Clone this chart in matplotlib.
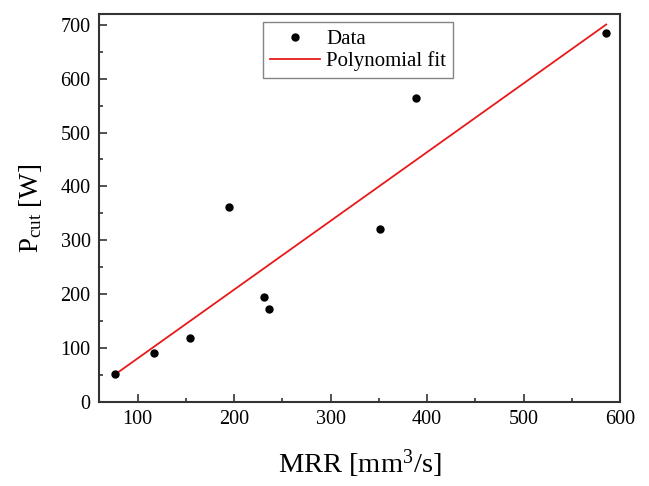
import numpy as np
import matplotlib
matplotlib.use("Agg")
import matplotlib.pyplot as plt
from matplotlib.ticker import MultipleLocator

mrr = [76.7, 117.3, 154.5, 194.4, 230.8, 236.0, 351.7, 389.0, 585.7]
pcut = [52, 91.5, 118, 362, 195, 172, 321, 564, 684.5]

plt.rcParams['font.family'] = ['Liberation Serif', 'DejaVu Serif']
plt.rcParams['mathtext.fontset'] = 'custom'
plt.rcParams['mathtext.rm'] = 'Liberation Serif'
plt.rcParams['mathtext.it'] = 'Liberation Serif'

fig = plt.figure(figsize=(6.49, 4.86), dpi=100)
ax = fig.add_axes([99/649, 1-402/486, (620-99)/649, (402-14)/486])

coef = np.polyfit(mrr, pcut, 1)
xf = np.array([min(mrr), max(mrr)])
ax.plot(mrr, pcut, 'o', color='black', markersize=5, label='Data', zorder=3)
ax.plot(xf, np.polyval(coef, xf), '-', color='#e8191b', linewidth=1.3, label='Polynomial fit')

ax.set_xlim(60, 600)
ax.set_ylim(0, 720)
ax.xaxis.set_major_locator(MultipleLocator(100))
ax.xaxis.set_minor_locator(MultipleLocator(50))
ax.yaxis.set_major_locator(MultipleLocator(100))
ax.yaxis.set_minor_locator(MultipleLocator(50))
ax.tick_params(which='both', direction='in', top=False, right=False, labelsize=14.5, color='#333333', width=1.2)
ax.tick_params(which='major', length=6, pad=6)
ax.tick_params(which='minor', length=3)
for s in ax.spines.values():
    s.set_linewidth(1.5)
    s.set_color('#333333')

ax.set_xlabel('MRR [mm$^3$/s]', fontsize=20.5, labelpad=13)
ax.set_ylabel('P$_{\\mathregular{cut}}$ [W]', fontsize=19.5, labelpad=12)

leg = ax.legend(loc='upper center', bbox_to_anchor=(0.497, 1.0), fontsize=15, frameon=True, fancybox=False,
                edgecolor='#666666', handlelength=2.4, borderpad=0.35, labelspacing=0.1, handletextpad=0.3,
                borderaxespad=0.4)
leg.get_frame().set_linewidth(1.0)

fig.savefig('out.png', dpi=100)
